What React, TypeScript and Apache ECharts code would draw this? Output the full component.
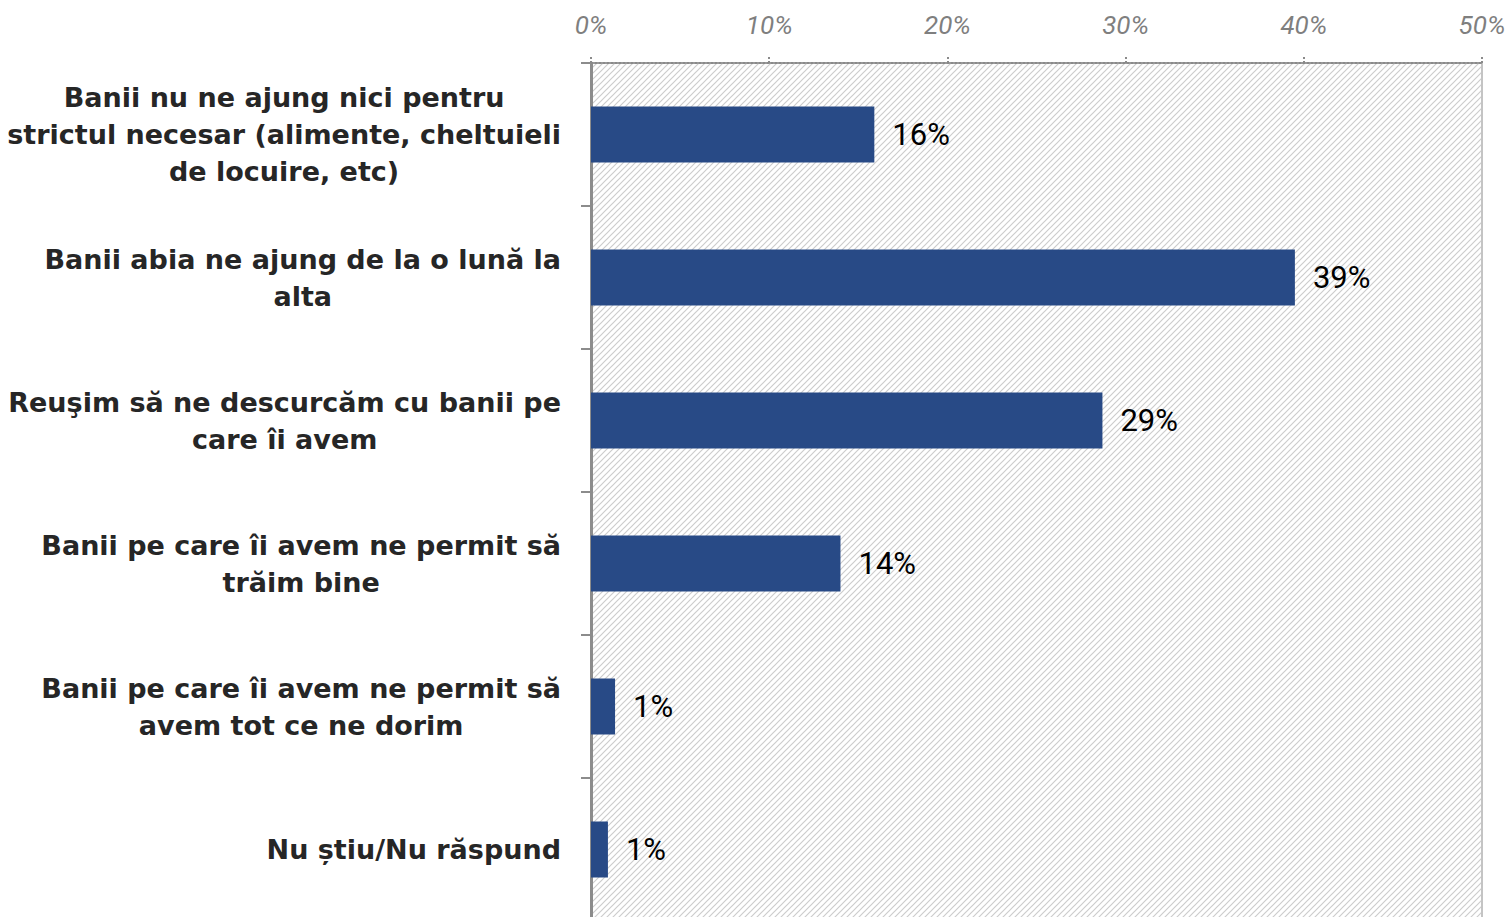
import React, { useEffect, useRef } from "react";
import * as echarts from "echarts";

const categories: string[] = [
  "Banii nu ne ajung nici pentru\nstrictul necesar (alimente, cheltuieli\nde locuire, etc)",
  "Banii abia ne ajung de la o lună la\nalta",
  "Reuşim să ne descurcăm cu banii pe\ncare îi avem",
  "Banii pe care îi avem ne permit să\ntrăim bine",
  "Banii pe care îi avem ne permit să\navem tot ce ne dorim",
  "Nu știu/Nu răspund",
];
const values: number[] = [15.9, 39.5, 28.7, 14.0, 1.35, 0.95];
const valueLabels: string[] = ["16%", "39%", "29%", "14%", "1%", "1%"];
const xTicks = { min: 0, max: 50, interval: 10 };

function makePattern(): HTMLCanvasElement {
  const s = 6;
  const c = document.createElement("canvas");
  c.width = s;
  c.height = s;
  const ctx = c.getContext("2d")!;
  ctx.fillStyle = "#ffffff";
  ctx.fillRect(0, 0, s, s);
  ctx.strokeStyle = "#cdcdcd";
  ctx.lineWidth = 1.2;
  ctx.beginPath();
  ctx.moveTo(-1, s + 1);
  ctx.lineTo(s + 1, -1);
  ctx.moveTo(-1, 1);
  ctx.lineTo(1, -1);
  ctx.moveTo(s - 1, s + 1);
  ctx.lineTo(s + 1, s - 1);
  ctx.stroke();
  return c;
}

export default function App() {
  const ref = useRef<HTMLDivElement>(null);
  useEffect(() => {
    if (!ref.current) return;
    const chart = echarts.init(ref.current, undefined, { renderer: "svg" });
    const pattern = makePattern();
    chart.setOption({
      animation: false,
      grid: {
        left: 591,
        right: 29,
        top: 63,
        bottom: 4,
        show: true,
        backgroundColor: { image: pattern, repeat: "repeat" } as any,
        borderColor: "#c4c4c4",
        borderWidth: 2,
      },
      xAxis: {
        type: "value",
        position: "top",
        min: xTicks.min,
        max: xTicks.max,
        interval: xTicks.interval,
        axisLine: { show: true, lineStyle: { color: "#8a8a8a", width: 2, type: "dotted" } },
        axisTick: { show: true, length: 8, lineStyle: { color: "#8a8a8a", width: 2, type: "dotted" } },
        splitLine: { show: false },
        axisLabel: {
          formatter: "{value}%",
          color: "#7f7f7f",
          fontStyle: "italic",
          fontFamily: "Roboto",
          fontSize: 26,
          margin: 25,
        },
      },
      yAxis: {
        type: "category",
        inverse: true,
        data: categories,
        axisLine: { show: true, lineStyle: { color: "#8c8c8c", width: 3 } },
        axisTick: { show: true, length: 10, lineStyle: { color: "#8c8c8c", width: 2 } },
        axisLabel: {
          margin: 30,
          formatter: (v: string) =>
            v
              .split("\n")
              .map((l) => `{c|${l}}`)
              .join("\n"),
          rich: {
            c: {
              align: "center",
              fontFamily: "DejaVu Sans",
              fontWeight: "bold",
              fontSize: 27,
              color: "#262626",
              lineHeight: 37,
            },
          },
        },
      },
      series: [
        {
          type: "bar",
          data: values,
          barWidth: 56,
          itemStyle: { color: "#284a86" },
          label: {
            show: true,
            position: "right",
            distance: 18,
            formatter: (p: any) => valueLabels[p.dataIndex],
            color: "#000000",
            fontFamily: "Roboto",
            fontSize: 31,
          },
        },
      ],
    });
    return () => chart.dispose();
  }, []);
  return (
    <div style={{ position: "absolute", left: 0, top: 0, width: 1511, height: 917, overflow: "hidden" }}>
      <div ref={ref} style={{ width: 1511, height: 925 }} />
    </div>
  );
}
